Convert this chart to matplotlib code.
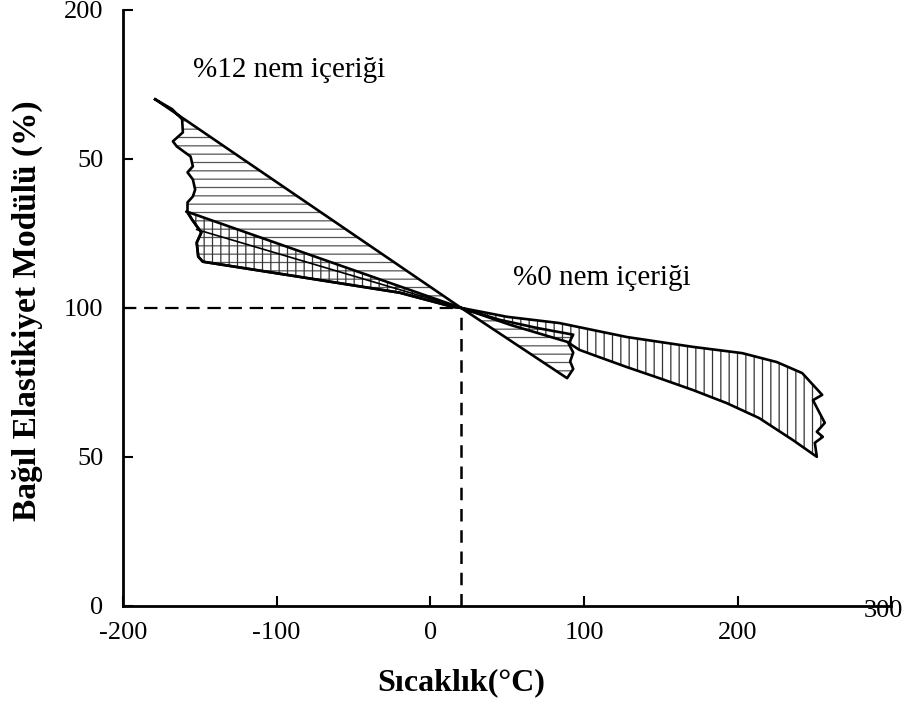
import matplotlib
matplotlib.use('Agg')
import matplotlib.pyplot as plt
import matplotlib.transforms as mtransforms

plt.rcParams['font.family'] = ['Liberation Serif', 'DejaVu Serif']
plt.rcParams['hatch.linewidth'] = 0.9
plt.rcParams['axes.unicode_minus'] = False

# %12 nem icerigi - bolge sinirlari (sicaklik, bagil modul)
nem12_x = [-179, 20, 89, 93, 91, 93, 90, 93, 70, 45, 20,
           15, -20, -85, -148, -151, -152, -149, -155, -158,
           -158, -154.5, -153, -154.5, -158, -154.5, -156, -165, -167.5, -161, -161.5, -168, -179]
nem12_y = [170, 100, 76.4, 79.5, 82, 85, 88, 91, 93.2, 96, 100,
           100.3, 105.1, 110.4, 115.5, 117.2, 121.9, 125.3, 129.6, 132.3,
           135.4, 137.4, 139.7, 143.1, 145.5, 147.5, 150.8, 154.2, 155.9, 158.9, 163.3, 166.7, 170]

# %0 nem icerigi
nem0_x = [-158.4, 20, 50, 84, 128, 171, 203, 225.5, 242, 255,
          249, 256.7, 251.5, 255.4, 250.2, 251.5,
          236, 214, 193, 171, 149, 128, 106, 97, 89, 52, 20,
          15, -20, -85, -148, -151, -152, -149, -155, -158.4]
nem0_y = [132.3, 100, 97, 94.9, 90.2, 86.9, 84.8, 81.8, 78.1, 70.8,
          69, 61.4, 58.4, 56.7, 54.7, 50,
          55.6, 63, 68, 72.4, 76.4, 80.1, 84.2, 85.9, 88.6, 94.3, 100,
          100.3, 105.1, 110.4, 115.5, 117.2, 121.9, 125.3, 129.6, 132.3]

# ic cizgi (izgara bolgesi)
ic_x = [-152, 20]
ic_y = [126.3, 100]

ref_x = 20
ref_y = 100

xticks = [-200, -100, 0, 100, 200, 300]
yticks = [0, 50, 100, 150, 200]
ytick_labels = ['0', '50', '100', '50', '200']

fig = plt.figure(figsize=(9.04, 7.11), dpi=100)
ax = fig.add_axes([0.136, 0.148, 0.850, 0.838])

ax.fill(nem12_x, nem12_y, facecolor='none', edgecolor='#555555', linewidth=0, hatch='--')
ax.fill(nem0_x, nem0_y, facecolor='none', edgecolor='#333333', linewidth=0, hatch='||')

ax.plot(nem12_x, nem12_y, color='black', lw=1.9, solid_joinstyle='round')
ax.plot(nem0_x, nem0_y, color='black', lw=1.9, solid_joinstyle='round')
ax.plot(ic_x, ic_y, color='black', lw=1.2)

# kesikli referans cizgileri
ax.plot([-200, ref_x], [ref_y, ref_y], color='black', lw=1.6, dashes=(6, 3.5))
ax.plot([ref_x, ref_x], [0, ref_y], color='black', lw=1.8, dashes=(5, 3.5))

ax.text(-154.5, 180, '%12 nem içeriği', fontsize=21, va='center', ha='left')
ax.text(54, 110, '%0 nem içeriği', fontsize=21, va='center', ha='left')

ax.set_xlim(-200, 300)
ax.set_ylim(0, 200)
ax.set_xticks(xticks)
ax.set_yticks(yticks)
ax.set_yticklabels(ytick_labels)
ax.tick_params(direction='in', length=7, width=1.5, labelsize=19)
ax.tick_params(axis='x', pad=12)
ax.tick_params(axis='y', pad=14)

for s in ['top', 'right']:
    ax.spines[s].set_visible(False)
for s in ['left', 'bottom']:
    ax.spines[s].set_linewidth(2)
    ax.spines[s].set_clip_on(False)

# "300" etiketi biraz yukarida
lab = ax.get_xticklabels()[-1]
off = mtransforms.ScaledTranslation(-8 / 100, 22 / 100, fig.dpi_scale_trans)
lab.set_transform(lab.get_transform() + off)

fig.text(0.51, 0.04, 'Sıcaklık(°C)', fontsize=23, fontweight='bold', ha='center', va='center')
fig.text(0.03, 0.563, 'Bağıl Elastikiyet Modülü (%)', fontsize=24, fontweight='bold',
         ha='center', va='center', rotation=90)

fig.savefig('out.png', dpi=100)
